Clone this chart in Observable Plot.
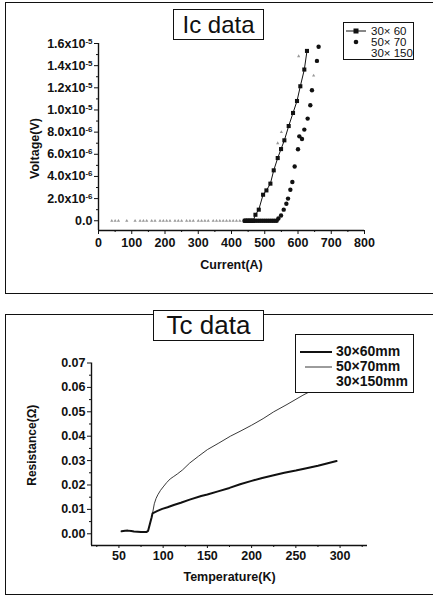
<!DOCTYPE html>
<html><head><meta charset="utf-8">
<script src="https://cdn.jsdelivr.net/npm/d3@7"></script>
<script src="https://cdn.jsdelivr.net/npm/@observablehq/plot@0.6"></script>
<style>
body{margin:0;background:#fff;font-family:"Liberation Sans",Arial,sans-serif;}
#page{position:relative;width:433px;height:607px;overflow:hidden;background:#fff;}
.panel{position:absolute;border:1.5px solid #111;box-sizing:border-box;}
.title{position:absolute;border:1.5px solid #111;box-sizing:border-box;background:#fff;display:flex;align-items:center;justify-content:center;color:#111;z-index:3;}
.leg{position:absolute;border:1.2px solid #111;box-sizing:border-box;background:#fff;z-index:3;color:#111;}
.row{position:absolute;left:0;right:0;display:flex;align-items:center;white-space:nowrap;overflow:visible;}
.chart{position:absolute;left:0;z-index:2;}
</style></head>
<body><div id="page"></div>
<script>
// ---------- Ic data (top) ----------
const icXTicks = [0, 100, 200, 300, 400, 500, 600, 700, 800];
const icXMinor = [50, 150, 250, 350, 450, 550, 650, 750];
const icYTicks = [0, 2, 4, 6, 8, 10, 12, 14, 16];            // µV
const icYMinor = [1, 3, 5, 7, 9, 11, 13, 15];
const icYTickLabels = ["0.0", "2.0x10^-6", "4.0x10^-6", "6.0x10^-6", "8.0x10^-6", "1.0x10^-5", "1.2x10^-5", "1.4x10^-5", "1.6x10^-5"];
const icSeriesNames = ["30\u00d7 60", "50\u00d7 70", "30\u00d7 150"];

const ic30x60Current = [440, 445, 450, 455, 460, 465, 472, 482, 495, 505, 517, 527, 539, 549, 559, 572, 585, 597, 607, 619, 627];
const ic30x60Voltage = [0, 0, 0, 0, 0, 0, 0.54, 1.0, 2.35, 2.74, 3.35, 4.55, 5.66, 6.47, 7.26, 8.55, 9.73, 10.81, 12.14, 13.65, 15.33];

const ic50x70Current = [440, 446, 452, 458, 464, 470, 476, 482, 488, 494, 500, 506, 512, 518, 524, 530, 536, 541, 549, 557, 565, 570, 577, 583, 590, 600, 604, 612, 619, 629, 637, 642, 657, 662];
const ic50x70Voltage = [0, 0, 0, 0, 0, 0, 0, 0, 0, 0, 0, 0, 0, 0, 0, 0, 0, 0.2, 0.48, 1.0, 1.54, 2.0, 2.8, 3.5, 4.9, 6.45, 7.62, 7.38, 8.23, 9.22, 10.42, 11.78, 14.43, 15.7];

const ic30x150Current = [40, 50, 60, 85, 110, 125, 135, 145, 160, 170, 185, 195, 205, 215, 230, 240, 250, 265, 275, 285, 300, 310, 320, 330, 345, 355, 365, 375, 385, 395, 405, 415, 425, 435, 539, 550, 602, 647];
const ic30x150Voltage = [0, 0, 0, 0, 0, 0, 0, 0, 0, 0, 0, 0, 0, 0, 0, 0, 0, 0, 0, 0, 0, 0, 0, 0, 0, 0, 0, 0, 0, 0, 0, 0, 0, 0, 7.0, 8.0, 14.85, 13.1];

const icXDomain = [0, 800];
const icYDomain = [-0.88, 16];

// ---------- Tc data (bottom) ----------
const tcXTicks = [50, 100, 150, 200, 250, 300];
const tcXMinor = [25, 75, 125, 175, 225, 275, 325];
const tcYTicks = [0, 0.01, 0.02, 0.03, 0.04, 0.05, 0.06, 0.07];
const tcYMinor = [0.005, 0.015, 0.025, 0.035, 0.045, 0.055, 0.065];
const tcSeriesNames = ["30\u00d760mm", "50\u00d770mm", "30\u00d7150mm"];

const tc30x60T = [53, 57, 60, 64, 67, 71, 75, 78, 81, 83, 85, 87, 88, 93, 99, 105, 112, 120, 130, 143, 150, 162, 175, 187, 200, 212, 225, 237, 250, 262, 275, 285, 296];
const tc30x60R = [0.0010, 0.0012, 0.0013, 0.0011, 0.0009, 0.0008, 0.0007, 0.0007, 0.0007, 0.0012, 0.0040, 0.0068, 0.0084, 0.0093, 0.0102, 0.0109, 0.0118, 0.0127, 0.0140, 0.0155, 0.0161, 0.0174, 0.0188, 0.0203, 0.0217, 0.0229, 0.0240, 0.0250, 0.0259, 0.0269, 0.0279, 0.0288, 0.0298];

const tc50x70T = [88, 90, 92, 94, 97, 100, 104, 108, 112, 116, 122, 130, 140, 150, 163, 176, 188, 200, 213, 225, 240, 258, 275, 295];
const tc50x70R = [0.0084, 0.0123, 0.0145, 0.0160, 0.0178, 0.0192, 0.0210, 0.0225, 0.0235, 0.0245, 0.0262, 0.0290, 0.0318, 0.0345, 0.0372, 0.0400, 0.0422, 0.0445, 0.0472, 0.0500, 0.0530, 0.0568, 0.0600, 0.0640];

const tcXDomain = [19, 331];
const tcYDomain = [-0.0048, 0.07];

// ---------- helpers ----------
const FONT = "Liberation Sans, Arial, sans-serif";
const zip = (xs, ys) => xs.map((x, i) => ({x, y: ys[i]}));
const page = document.getElementById("page");

function addDiv(cls, style, html) {
  const d = document.createElement("div");
  d.className = cls;
  Object.assign(d.style, style);
  if (html != null) d.innerHTML = html;
  page.appendChild(d);
  return d;
}

function superscriptTicks(svg) {
  svg.querySelectorAll('g[aria-label="y-axis tick label"] text').forEach(t => {
    const s = t.textContent;
    if (!s.includes("^")) return;
    const [b, e] = s.split("^");
    t.textContent = "";
    const ns = "http://www.w3.org/2000/svg";
    const t1 = document.createElementNS(ns, "tspan"); t1.textContent = b;
    const t2 = document.createElementNS(ns, "tspan"); t2.textContent = e;
    t2.setAttribute("dy", "-0.5em"); t2.setAttribute("font-size", "8");
    t.appendChild(t1); t.appendChild(t2);
  });
}

// panels
addDiv("panel", {left: "5px", top: "2px", width: "450px", height: "292px"});
addDiv("panel", {left: "5px", top: "314px", width: "450px", height: "281px"});

// ---------- top chart ----------
const icPlot = Plot.plot({
  width: 433, height: 300,
  marginLeft: 98, marginRight: 69, marginTop: 43, marginBottom: 70,
  style: {fontFamily: FONT, background: "transparent", overflow: "visible", color: "#111"},
  x: {domain: icXDomain},
  y: {domain: icYDomain},
  marks: [
    Plot.ruleX([icXDomain[0]], {stroke: "#111", strokeWidth: 1.4}),
    Plot.ruleY([icYDomain[0]], {stroke: "#111", strokeWidth: 1.4}),
    Plot.axisX({ticks: icXTicks, tickSize: 4, tickPadding: 4, fontSize: 12.5, fontWeight: "bold", label: null, tickFormat: d => String(d)}),
    Plot.axisX({ticks: icXMinor, tickSize: 2, tickFormat: () => "", label: null}),
    Plot.axisY({ticks: icYTicks, tickSize: 4, tickPadding: 2, fontSize: 12.5, fontWeight: "bold", label: null,
      tickFormat: d => icYTickLabels[icYTicks.indexOf(d)]}),
    Plot.axisY({ticks: icYMinor, tickSize: 2, tickFormat: () => "", label: null}),
    Plot.text(["Current(A)"], {frameAnchor: "bottom", dy: 38, textAnchor: "middle", fontSize: 12.5, fontWeight: "bold", fill: "#111"}),
    Plot.text(["Voltage(V)"], {frameAnchor: "left", dx: -64, dy: 11.5, textAnchor: "middle", lineAnchor: "middle", rotate: -90, fontSize: 12.5, fontWeight: "bold", fill: "#111"}),
    Plot.dot(zip(ic30x150Current, ic30x150Voltage), {x: "x", y: "y", symbol: "triangle", r: 1.2, fill: "#999", stroke: "none"}),
    Plot.line(zip(ic30x60Current, ic30x60Voltage), {x: "x", y: "y", stroke: "#111", strokeWidth: 1}),
    Plot.dot(zip(ic30x60Current, ic30x60Voltage), {x: "x", y: "y", symbol: "square", r: 2.3, fill: "#111", stroke: "none"}),
    Plot.dot(zip(ic50x70Current, ic50x70Voltage), {x: "x", y: "y", symbol: "circle", r: 2.2, fill: "#111", stroke: "none"})
  ]
});
superscriptTicks(icPlot);
icPlot.classList.add("chart");
icPlot.style.top = "0px";
page.appendChild(icPlot);

addDiv("title", {left: "173px", top: "9px", width: "91px", height: "31px", fontSize: "24px"}, "Ic data");

const icLeg = addDiv("leg", {left: "343px", top: "22px", width: "71px", height: "38px", fontSize: "11.5px"});
const icSym = [
  '<svg width="24" height="8"><line x1="2" y1="4" x2="22" y2="4" stroke="#111" stroke-width="1"/><rect x="9.5" y="1.5" width="5" height="5" fill="#111"/></svg>',
  '<svg width="24" height="8"><circle cx="12" cy="4" r="2.3" fill="#111"/></svg>',
  '<svg width="24" height="8"></svg>'
];
icSeriesNames.forEach((n, i) => {
  const r = document.createElement("div");
  r.className = "row";
  r.style.top = (2.5 + i * 11.3) + "px";
  r.style.height = "11px";
  r.style.lineHeight = "11px";
  r.innerHTML = icSym[i] + '<span style="margin-left:3px;line-height:11px">' + n + '</span>';
  icLeg.appendChild(r);
});

// ---------- bottom chart ----------
const tcPlot = Plot.plot({
  width: 433, height: 307,
  marginLeft: 91, marginRight: 66, marginTop: 62.5, marginBottom: 62,
  style: {fontFamily: FONT, background: "transparent", overflow: "visible", color: "#111"},
  x: {domain: tcXDomain},
  y: {domain: tcYDomain},
  marks: [
    Plot.ruleX([tcXDomain[0]], {stroke: "#111", strokeWidth: 1.4}),
    Plot.ruleY([tcYDomain[0]], {stroke: "#111", strokeWidth: 1.4}),
    Plot.axisX({ticks: tcXTicks, tickSize: 3, tickPadding: 3, fontSize: 12.5, fontWeight: "bold", label: null, tickFormat: d => String(d)}),
    Plot.axisX({ticks: tcXMinor, tickSize: 2, tickFormat: () => "", label: null}),
    Plot.axisY({ticks: tcYTicks, tickSize: 4, tickPadding: 2, fontSize: 12.5, fontWeight: "bold", label: null, tickFormat: d3.format(".2f")}),
    Plot.axisY({ticks: tcYMinor, tickSize: 2, tickFormat: () => "", label: null}),
    Plot.text(["Temperature(K)"], {frameAnchor: "bottom", dy: 35, textAnchor: "middle", fontSize: 12.5, fontWeight: "bold", fill: "#111"}),
    Plot.text(["Resistance(\u03a9)"], {frameAnchor: "left", dx: -59, dy: -9, textAnchor: "middle", lineAnchor: "middle", rotate: -90, fontSize: 12, fontWeight: "bold", fill: "#111"}),
    Plot.line(zip(tc50x70T, tc50x70R), {x: "x", y: "y", stroke: "#222", strokeWidth: 0.9}),
    Plot.line(zip(tc30x60T, tc30x60R), {x: "x", y: "y", stroke: "#111", strokeWidth: 2})
  ]
});
tcPlot.classList.add("chart");
tcPlot.style.top = "300px";
page.appendChild(tcPlot);

addDiv("title", {left: "153px", top: "310px", width: "111px", height: "31px", fontSize: "26px"}, "Tc data");

const tcLeg = addDiv("leg", {left: "295px", top: "334px", width: "119px", height: "59px", fontSize: "14px", fontWeight: "bold"});
const tcSym = [
  '<svg width="38" height="8"><line x1="4" y1="4" x2="36" y2="4" stroke="#111" stroke-width="2"/></svg>',
  '<svg width="38" height="8"><line x1="9" y1="4" x2="36" y2="4" stroke="#222" stroke-width="0.9"/></svg>',
  '<svg width="38" height="8"></svg>'
];
tcSeriesNames.forEach((n, i) => {
  const r = document.createElement("div");
  r.className = "row";
  r.style.top = (9 + i * 15) + "px";
  r.style.height = "15px";
  r.style.lineHeight = "15px";
  r.innerHTML = tcSym[i] + '<span style="margin-left:2px">' + n + '</span>';
  tcLeg.appendChild(r);
});
</script>
</body></html>
